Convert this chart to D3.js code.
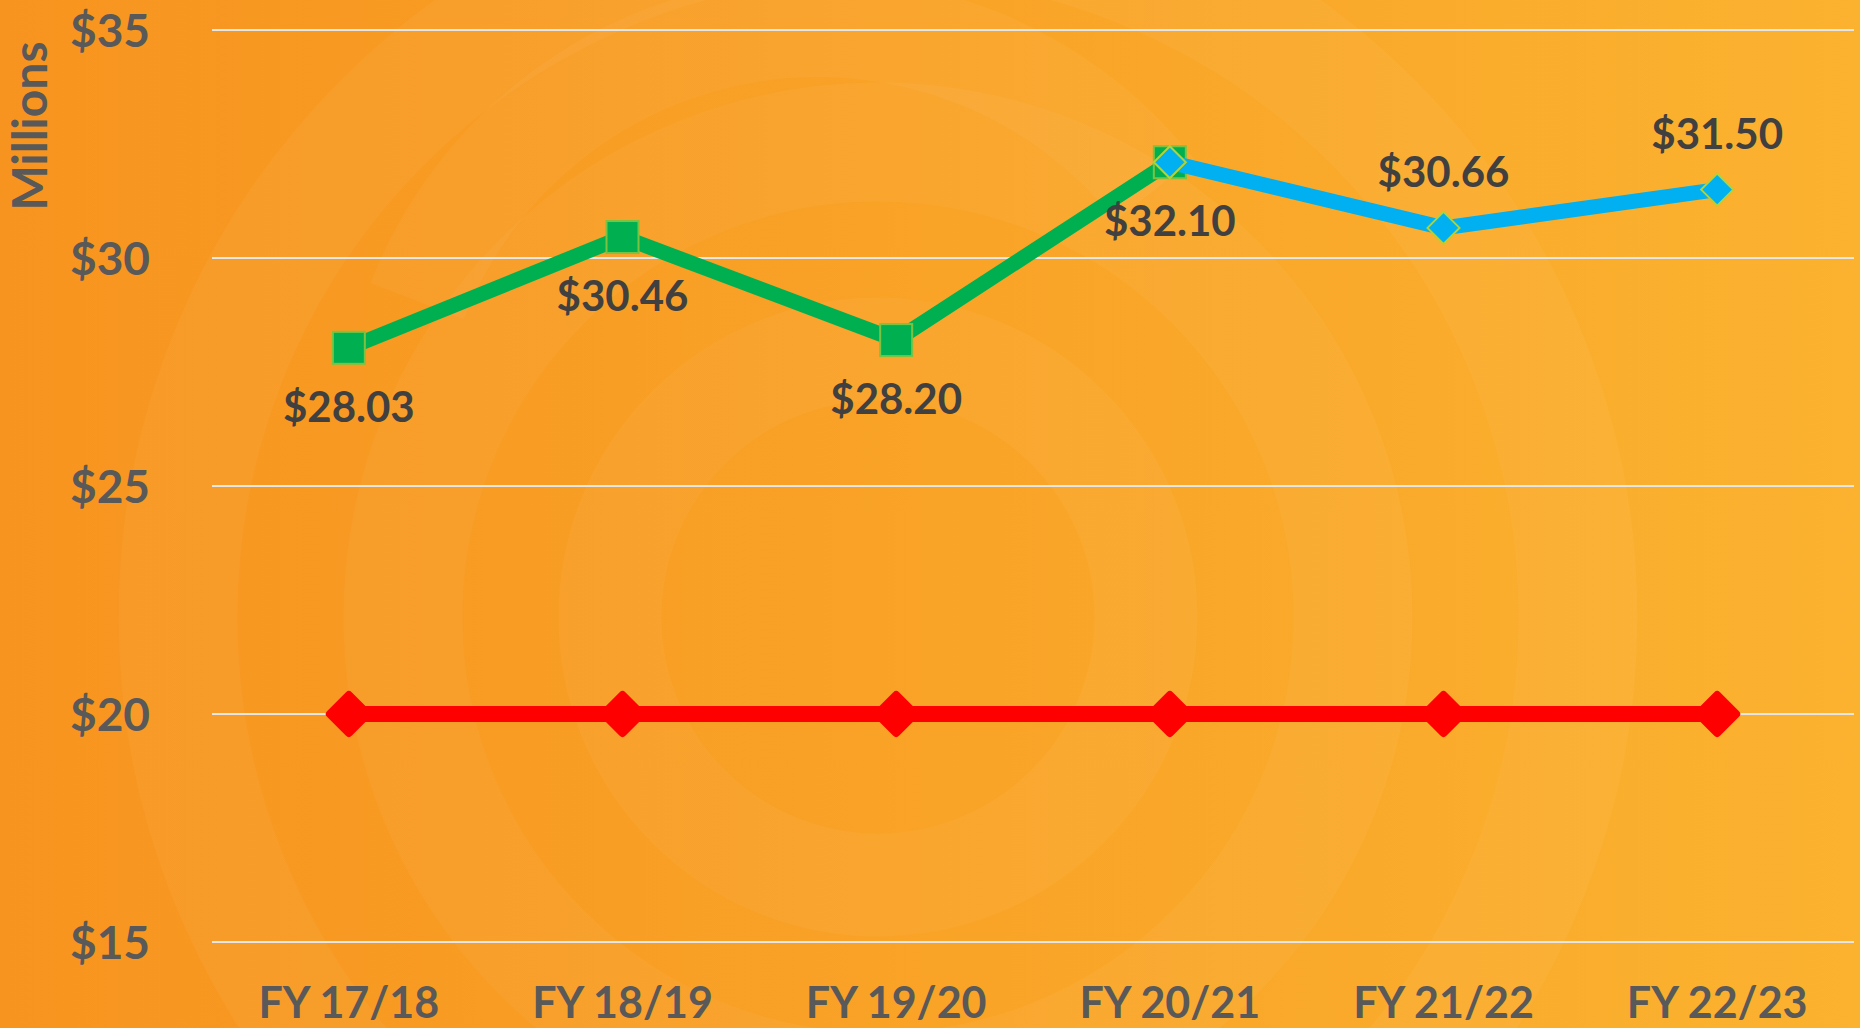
<!DOCTYPE html>
<html>
<head>
<meta charset="utf-8">
<script src="https://cdn.jsdelivr.net/npm/d3@7"></script>
<style>
  html, body { margin: 0; padding: 0; overflow: hidden; }
  svg { display: block; }
</style>
</head>
<body>
<div id="chart"></div>
<script>
// data
const years = ["FY 17/18", "FY 18/19", "FY 19/20", "FY 20/21", "FY 21/22", "FY 22/23"];
const actual = [28.03, 30.46, 28.20, 32.10];          // green, first four years
const forecast = [null, null, null, 32.10, 30.66, 31.50]; // blue
const target = [20, 20, 20, 20, 20, 20];             // red
const yTicks = [15, 20, 25, 30, 35];

const W = 1860, H = 1028;
const plot = {left: 212, right: 1854, top: 30, bottom: 942};

const svg = d3.select("#chart").append("svg")
    .attr("width", W)
    .attr("height", H);

// background
const defs = svg.append("defs");
const grad = defs.append("linearGradient").attr("id", "bg")
    .attr("x1", "0%").attr("x2", "100%").attr("y1", "0%").attr("y2", "0%");
grad.append("stop").attr("offset", "0%").attr("stop-color", "#f7941f");
grad.append("stop").attr("offset", "100%").attr("stop-color", "#fbb22f");

svg.append("rect").attr("width", W).attr("height", H).attr("fill", "url(#bg)");

const rings = svg.append("g").attr("transform", "translate(878,617)");
[[268, 103], [475, 119], [700, 119]].forEach(function(r) {
    rings.append("circle")
        .attr("r", r[0])
        .attr("fill", "none")
        .attr("stroke", "#ffffff")
        .attr("stroke-opacity", 0.04)
        .attr("stroke-width", r[1]);
});
// the curled arc at the top
rings.append("path")
    .attr("d", d3.arc()({innerRadius: 380, outerRadius: 480, startAngle: -1.2, endAngle: 0.9, cornerRadius: 50}))
    .attr("transform", "translate(-60,-160)")
    .attr("fill", "#ffffff")
    .attr("fill-opacity", 0.04);

// scales
const x = d3.scaleBand().domain(years).range([plot.left, plot.right]).padding(0);
const cx = d => x(d) + x.bandwidth() / 2;
const y = d3.scaleLinear().domain([15, 35]).range([plot.bottom, plot.top]);

// gridlines
svg.append("g")
    .selectAll("line")
    .data(yTicks)
    .join("line")
    .attr("x1", plot.left)
    .attr("x2", plot.right)
    .attr("y1", d => y(d))
    .attr("y2", d => y(d))
    .attr("stroke", "#e6e6e6")
    .attr("stroke-width", 2);

// y axis labels
const yAxis = d3.axisLeft(y).tickValues(yTicks).tickFormat(d => "$" + d).tickSize(0).tickPadding(0);
const gy = svg.append("g")
    .attr("transform", "translate(150,0)")
    .call(yAxis);
gy.select(".domain").remove();
gy.selectAll("text")
    .attr("dy", "0.36em")
    .attr("fill", "#595959")
    .style("font-family", "Lato, 'Open Sans', sans-serif")
    .style("font-weight", "bold")
    .style("font-size", "46px");

// x axis labels
const xAxis = d3.axisBottom(x).tickSize(0).tickPadding(0);
const gx = svg.append("g")
    .attr("transform", "translate(0,1003)")
    .call(xAxis);
gx.select(".domain").remove();
gx.selectAll("text")
    .attr("dy", "0.36em")
    .attr("fill", "#595959")
    .style("font-family", "Lato, 'Open Sans', sans-serif")
    .style("font-weight", "bold")
    .style("font-size", "43px");

// axis title
svg.append("text")
    .attr("transform", "translate(30,126) rotate(-90)")
    .attr("text-anchor", "middle")
    .attr("dy", "0.36em")
    .attr("fill", "#595959")
    .style("font-family", "Lato, 'Open Sans', sans-serif")
    .style("font-weight", "bold")
    .style("font-size", "48px")
    .text("Millions");

const line = d3.line()
    .defined(d => d.v != null)
    .x(d => cx(d.c))
    .y(d => y(d.v));

const diamond = r => "M0," + (-r) + "L" + r + ",0L0," + r + "L" + (-r) + ",0Z";

const redData = years.map((c, i) => ({c: c, v: target[i]}));
const greenData = actual.map((v, i) => ({c: years[i], v: v}));
const blueData = years.map((c, i) => ({c: c, v: forecast[i]}));

// red target line
svg.append("path")
    .datum(redData)
    .attr("d", line)
    .attr("fill", "none")
    .attr("stroke", "#ff0000")
    .attr("stroke-width", 16);

svg.append("g")
    .selectAll("path")
    .data(redData)
    .join("path")
    .attr("d", diamond(19))
    .attr("transform", d => "translate(" + cx(d.c) + "," + y(d.v) + ")")
    .attr("fill", "#ff0000")
    .attr("stroke", "#ff0000")
    .attr("stroke-width", 8)
    .attr("stroke-linejoin", "round");

// green actual line
svg.append("path")
    .datum(greenData)
    .attr("d", line)
    .attr("fill", "none")
    .attr("stroke", "#00b050")
    .attr("stroke-width", 15);

svg.append("g")
    .selectAll("rect")
    .data(greenData)
    .join("rect")
    .attr("x", d => cx(d.c) - 16)
    .attr("y", d => y(d.v) - 16)
    .attr("width", 32)
    .attr("height", 32)
    .attr("fill", "#00b050")
    .attr("stroke", "#7cc242")
    .attr("stroke-width", 2);

// blue forecast line
const blueDef = blueData.filter(d => d.v != null);
svg.append("path")
    .datum(blueData)
    .attr("d", line)
    .attr("fill", "none")
    .attr("stroke", "#00b0f0")
    .attr("stroke-width", 15);

svg.append("g")
    .selectAll("path")
    .data(blueDef)
    .join("path")
    .attr("d", diamond(16))
    .attr("transform", d => "translate(" + cx(d.c) + "," + y(d.v) + ")")
    .attr("fill", "#00b0f0")
    .attr("stroke", "#b3d235")
    .attr("stroke-width", 2);

// data labels
const labelFmt = d => "$" + d3.format(".2f")(d);
const labelStyle = function(sel) {
    sel.attr("text-anchor", "middle")
        .attr("fill", "#404040")
        .style("font-family", "Lato, 'Open Sans', sans-serif")
        .style("font-weight", "bold")
        .style("font-size", "42px");
};

svg.append("g")
    .selectAll("text")
    .data(greenData)
    .join("text")
    .attr("x", d => cx(d.c))
    .attr("y", d => y(d.v) + 74)
    .text(d => labelFmt(d.v))
    .call(labelStyle);

svg.append("g")
    .selectAll("text")
    .data(blueDef.slice(1))
    .join("text")
    .attr("x", d => cx(d.c))
    .attr("y", d => y(d.v) - 41)
    .text(d => labelFmt(d.v))
    .call(labelStyle);
</script>
</body>
</html>
